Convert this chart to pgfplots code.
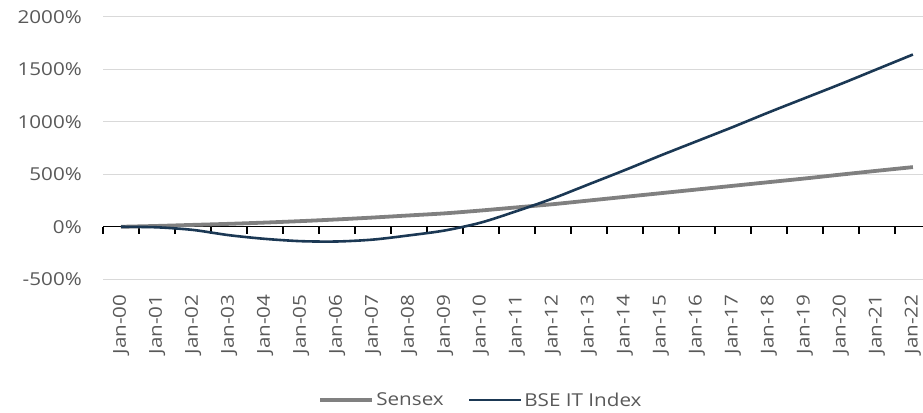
\documentclass[border=0pt]{standalone}
\usepackage{fontspec}
\setmainfont{Open Sans}[FakeStretch=1.16]
\usepackage{pgfplots}
\pgfplotsset{compat=1.18}
\usepackage{pgfplotstable}

\definecolor{sensex}{RGB}{128,128,128}
\definecolor{itblue}{RGB}{27,56,84}
\definecolor{gridgray}{RGB}{217,217,217}
\definecolor{labelgray}{RGB}{89,89,89}

% x = years since Jan-00, y = cumulative return in %
\pgfplotstableread{
x y
0 0
1 8
2 18
3 28
4 40
5 54
6 70
7 88
8 108
9 128
10 155
11 185
12 215
13 250
14 285
15 320
16 355
17 390
18 425
19 460
20 497
21 533
22 568
}\sensexdata

\pgfplotstableread{
x y
0 0
1 -5
2 -30
3 -80
4 -115
5 -137
6 -140
7 -122
8 -82
9 -35
10 40
11 150
12 270
13 405
14 540
15 680
16 815
17 950
18 1090
19 1225
20 1360
21 1500
22 1640
}\itdata

\begin{document}
\begin{tikzpicture}
\useasboundingbox (0,0) rectangle (923bp,413bp);
\begin{axis}[
  at={(103bp,133.7bp)}, anchor=south west,
  scale only axis, width=820bp, height=262.6bp,
  xmin=-0.5, xmax=22.28, ymin=-500, ymax=2000,
  axis line style={draw=none},
  xtick={0,...,22},
  xticklabels={Jan-00,Jan-01,Jan-02,Jan-03,Jan-04,Jan-05,Jan-06,Jan-07,Jan-08,Jan-09,Jan-10,Jan-11,Jan-12,Jan-13,Jan-14,Jan-15,Jan-16,Jan-17,Jan-18,Jan-19,Jan-20,Jan-21,Jan-22},
  ytick={-500,0,500,1000,1500,2000},
  yticklabels={-500\%,0\%,500\%,1000\%,1500\%,2000\%},
  major tick length=0pt,
  ymajorgrids, grid style={gridgray, line width=1bp},
  tick label style={font=\fontsize{17.8bp}{20bp}\selectfont, text=labelgray, inner sep=0pt},
  xticklabel style={rotate=90, anchor=east},
  xticklabel shift=15bp,
  yticklabel style={anchor=east},
  yticklabel shift=21bp,
  legend style={at={(axis description cs:0.461,-0.46)}, anchor=center, draw=none, fill=none,
    legend columns=2, font=\fontsize{17.8bp}{20bp}\selectfont, text=labelgray,
    /tikz/every even column/.append style={column sep=22bp},
    nodes={inner sep=2bp}},
  legend image code/.code={\draw[#1] (0bp,0bp) -- (52bp,0bp);},
  clip=false,
]
\draw[black, line width=1.3bp] (axis cs:-0.5,0) -- (axis cs:22.28,0);
\pgfplotsinvokeforeach{-0.5,0.5,...,21.5}{
  \draw[black, line width=1.2bp] (axis cs:#1,0) -- ++(0bp,-7bp);
}
\addplot[sensex, line width=3.8bp, smooth] table[x=x, y=y] {\sensexdata};
\addlegendentry{Sensex}
\addplot[itblue, line width=2.6bp, smooth] table[x=x, y=y] {\itdata};
\addlegendentry{BSE IT Index}
\end{axis}
\end{tikzpicture}
\end{document}
